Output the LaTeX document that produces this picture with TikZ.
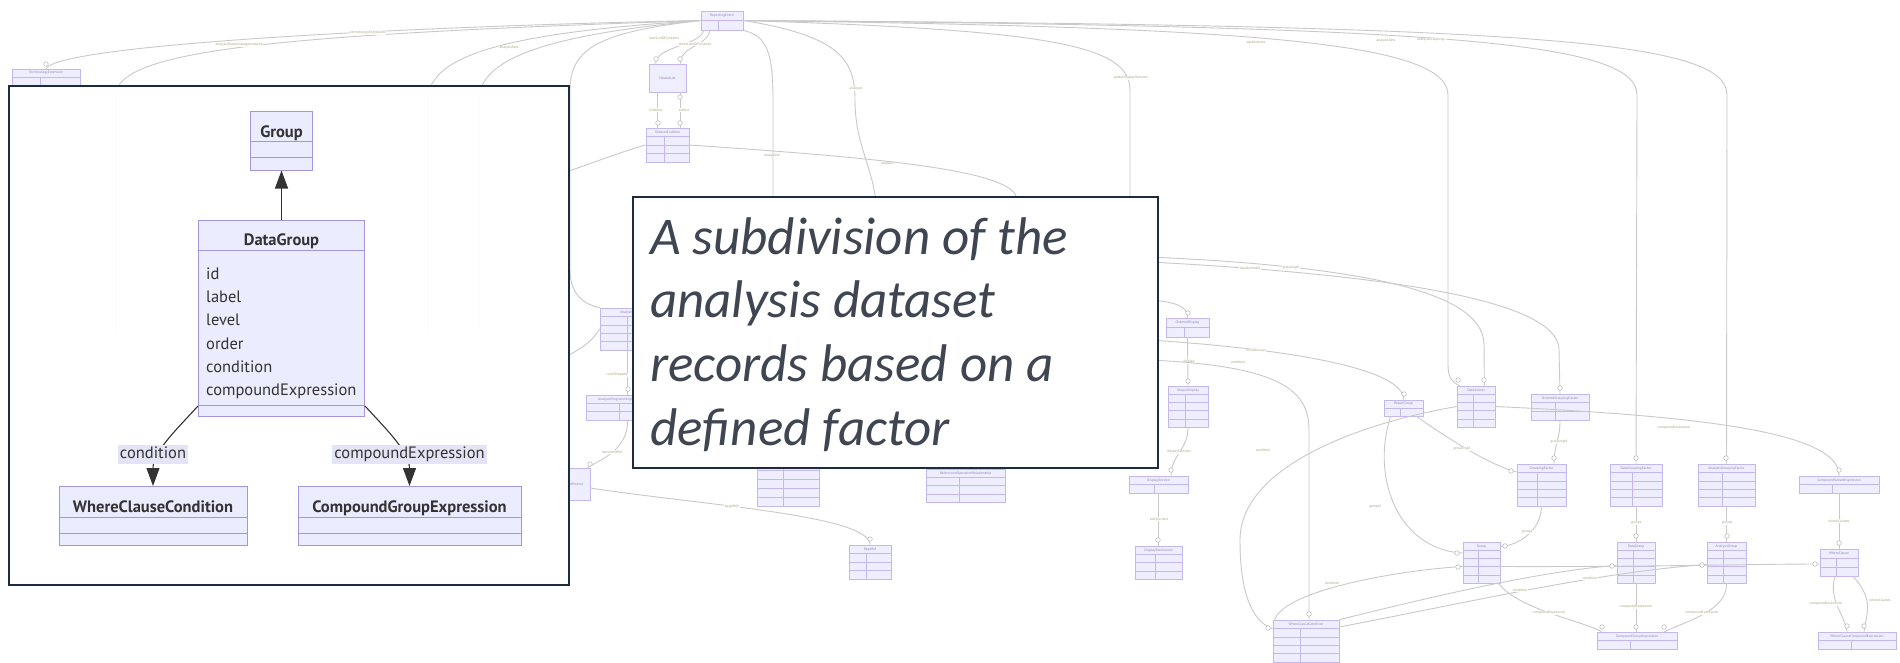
\documentclass[tikz,border=0pt]{standalone}
\usepackage{fontspec}
\setmainfont{PT Sans}
\newfontfamily\calfont{Carlito}
\usetikzlibrary{arrows.meta,calc}
\definecolor{erfill}{HTML}{EEEEFF}
\definecolor{erline}{HTML}{C4B8EE}
\definecolor{relc}{HTML}{C9C9C9}
\definecolor{circc}{HTML}{B5B5B5}
\definecolor{rlabc}{HTML}{A9A27A}
\definecolor{ttlc}{HTML}{8F86B8}
\definecolor{umlfill}{HTML}{ECECFF}
\definecolor{umlline}{HTML}{A594E0}
\definecolor{ink}{HTML}{333333}
\definecolor{navy}{HTML}{1C2B40}
\definecolor{slate}{HTML}{3F4652}
\definecolor{lblbg}{HTML}{E4E4F7}
\tikzset{
 erbox/.style={draw=erline, fill=erfill, line width=0.7pt, inner sep=0pt, rectangle},
 errow/.style={draw=erline, line width=0.5pt},
 ertitle/.style={font=\fontsize{3.6}{4}\selectfont, text=ttlc, inner sep=0pt},
 relline/.style={draw=relc, line width=0.9pt},
 rlab/.style={font=\fontsize{3.6}{4}\selectfont, text=rlabc, fill=white, inner sep=0.6pt},
 umlbox/.style={draw=umlline, fill=umlfill, line width=1pt, rectangle, inner sep=0pt},
 umlrule/.style={draw=umlline, line width=1pt},
 umlname/.style={font=\fontsize{16.5}{18}\selectfont\bfseries, text=ink, inner sep=0pt},
 umlattr/.style={font=\fontsize{16.5}{18}\selectfont, text=ink, inner sep=0pt, anchor=base west},
 umlarrow/.style={draw=ink, line width=1.1pt, -{Triangle[length=18pt,width=13pt]}},
 edgelab/.style={font=\fontsize{16.5}{18}\selectfont, text=ink, fill=lblbg, inner xsep=2pt, inner ysep=1.5pt, text height=12pt, text depth=4pt},
 navyframe/.style={draw=navy, line width=2pt, rectangle, inner sep=0pt},
 ctext/.style={font=\calfont\itshape\fontsize{53}{63}\selectfont, text=slate, inner sep=0pt, anchor=base west},
}
\newcommand{\erb}[7]{%
 \node[erbox, minimum width={(#4-#2)*1pt}, minimum height={(#5-#3)*1pt}] (#1) at ({(#2+#4)/2},{(#3+#5)/2}) {};
 \pgfmathsetmacro{\erh}{(#5-#3)/(#6+1)}%
 \node[ertitle] (#1t) at ({(#2+#4)/2},{#3+\erh/2}) {#7};
 \ifnum#6>0
 \foreach \k in {1,...,#6}{\draw[errow] (#2,{#3+\k*\erh}) -- (#4,{#3+\k*\erh});}
 \draw[errow] ({#2+0.42*(#4-#2)},{#3+\erh}) -- ({#2+0.42*(#4-#2)},#5);
 \fi
}
\newcommand{\erdot}[2]{\draw[draw=circc, fill=white, line width=0.5pt] (#1,#2) circle (2.3pt);}
\begin{document}
\begin{tikzpicture}[x=1pt,y=-1pt]
\useasboundingbox (0,0) rectangle (1900,662);
\fill[white] (0,0) rectangle (1900,662);

% ---------- background entity-relationship diagram ----------
\erb{re}{701}{11}{743}{30}{1}{ReportingEvent}
\erb{te}{12}{69}{80}{85}{1}{TerminologyExtension}
\erb{nl}{649}{64}{686}{92}{0}{NestedList}
\erb{oli}{646}{128}{689}{162}{3}{OrderedListItem}
\erb{am}{600}{308}{665}{350}{4}{AnalysisMethod}
\erb{apct}{586}{395}{665}{420}{2}{AnalysisProgrammingCodeTemplate}
\erb{dr}{562}{468}{590}{500}{0}{Reference}
\erb{pr}{849}{545}{891}{579}{3}{PageRef}
\erb{op}{757}{443}{819}{506}{6}{}
\erb{ror}{926}{469}{1005}{502}{3}{ReferencedOperationRelationship}
\erb{od}{1166}{318}{1209}{337}{1}{OrderedDisplay}
\erb{out}{1168}{386}{1208}{427}{4}{OutputDisplay}
\erb{ds}{1129}{476}{1188}{493}{1}{DisplaySection}
\erb{dss}{1135}{546}{1182}{579}{3}{DisplaySubSection}
\erb{rg}{1384}{400}{1423}{416}{1}{ResultGroup}
\erb{dsub}{1457}{386}{1495}{427}{4}{DataSubset}
\erb{ogf}{1531}{394}{1589}{420}{2}{OrderedGroupingFactor}
\erb{gf}{1517}{464}{1566}{506}{4}{GroupingFactor}
\erb{dgf}{1610}{464}{1662}{506}{4}{DataGroupingFactor}
\erb{agf}{1698}{464}{1755}{506}{4}{AnalysisGroupingFactor}
\erb{cse}{1799}{476}{1879}{493}{1}{CompoundSubsetExpression}
\erb{grp}{1463}{542}{1500}{583}{4}{Group}
\erb{dg}{1617}{542}{1655}{583}{4}{DataGroup}
\erb{ag}{1707}{542}{1746}{583}{4}{AnalysisGroup}
\erb{wc}{1820}{549}{1858}{576}{2}{WhereClause}
\erb{wcc}{1273}{620}{1339}{662}{4}{WhereClauseCondition}
\erb{cge}{1597}{632}{1677}{649}{1}{CompoundGroupExpression}
\erb{wcce}{1818}{632}{1896}{649}{1}{WhereClauseCompoundExpression}

% top-left fan
\draw[relline] (re.west) .. controls (420,26) and (60,44) .. (te.north);
\erdot{46}{64}
\coordinate (h1) at (116,330);
\draw[relline] (re.west) .. controls (300,34) and (116,48) .. (116,95) -- (h1);
\coordinate (h2) at (428,330);
\draw[relline] (re.west) .. controls (520,32) and (428,52) .. (428,100) -- (h2);
\coordinate (h3) at (479,330);
\draw[relline] (re.west) .. controls (560,34) and (479,55) .. (479,100) -- (h3);
\draw[relline] (re.west) .. controls (600,32) and (570,48) .. (570,90) -- (570,270) .. controls (570,295) and (585,305) .. (am.north west);
\node[rlab] (l1) at (368,33) {terminologyExtensions};
\node[rlab] (l2) at (239,45) {analysisOutputCategorizations};
\node[rlab] (l3) at (509,48) {analysisSets};

% nested list
\draw[relline] ($(re.south west)+(3,0)$) .. controls (700,46) and (656,46) .. ($(nl.north west)+(7,0)$);
\draw[relline] ($(re.south west)+(9,0)$) .. controls (708,46) and (680,46) .. ($(nl.north east)+(-6,0)$);
\erdot{656}{59} \erdot{680}{59}
\node[rlab] (l4) at (664,38) {mainListOfContents};
\node[rlab] (l5) at (695,44) {otherListsOfContents};
\draw[relline] ($(nl.south west)+(9,0)$) -- ($(oli.north west)+(12,0)$);
\draw[relline] ($(nl.south east)+(-6,0)$) -- ($(oli.north east)+(-9,0)$);
\erdot{658}{123} \erdot{680}{123} \erdot{680}{97}
\node[rlab] (l6) at (656,110) {listItems};
\node[rlab] (l7) at (684,110) {sublist};

\coordinate (h8) at (560,174);
\draw[relline] (oli.west) .. controls (620,152) and (585,166) .. (h8);
\coordinate (h7) at (1017,220);
\draw[relline] (oli.east) .. controls (880,158) and (1017,170) .. (1017,200) -- (h7);
\node[rlab] (l8) at (772,156) {analysisId};
\node[rlab] (l9) at (888,164) {outputId};

% lines down from reporting event
\coordinate (h4) at (773,220);
\draw[relline] (re.south east) .. controls (768,36) and (773,55) .. (773,100) -- (h4);
\coordinate (h5) at (877,220);
\draw[relline] (re.east) .. controls (840,36) and (855,60) .. (855,100) .. controls (855,150) and (877,170) .. (h5);
\node[rlab] (l10) at (856,89) {analyses};
\coordinate (h6) at (1130,220);
\draw[relline] (re.east) .. controls (1050,30) and (1130,45) .. (1130,90) -- (h6);
\node[rlab] (l11) at (1131,78) {globalDisplaySections};

% right fan
\draw[relline] (re.east) .. controls (1250,27) and (1448,42) .. (1448,95) -- (1448,365) .. controls (1448,378) and (1452,382) .. ($(dsub.north west)+(3,0)$);
\erdot{1458}{380}
\draw[relline] (re.east) .. controls (1450,26) and (1637,42) .. (1637,95) -- (dgf.north);
\erdot{1636}{458}
\draw[relline] (re.east) .. controls (1550,25) and (1727,42) .. (1727,95) -- (agf.north);
\erdot{1726}{458}
\node[rlab] (l12) at (1256,42) {dataSubsets};
\node[rlab] (l13) at (1386,41) {analysisSets};
\node[rlab] (l14) at (1431,40) {analysisGroupings};

% lines leaving the area behind the callout
\coordinate (h9) at (1150,257);
\draw[relline] (h9) .. controls (1400,268) and (1484,300) .. (1484,345) -- ($(dsub.north east)+(-11,0)$);
\erdot{1484}{380}
\coordinate (h10) at (1150,262);
\draw[relline] (h10) .. controls (1450,278) and (1559,310) .. (1559,350) -- (ogf.north);
\erdot{1560}{388}
\node[rlab] (l15) at (1250,268) {dataSubsetId};
\node[rlab] (l16) at (1291,268) {groupingId};
\coordinate (h11) at (1150,300);
\draw[relline] (h11) .. controls (1175,302) and (1188,306) .. (od.north);
\erdot{1188}{313}
\draw[relline] (od.south) -- (out.north);
\node[rlab] (l17) at (1189,362) {display};
\erdot{1188}{381}
\draw[relline] (out.south) .. controls (1188,450) and (1171,455) .. ($(ds.north)+(12.5,0)$);
\node[rlab] (l18) at (1179,452) {displaySections};
\erdot{1171}{470}
\draw[relline] (ds.south) -- (dss.north);
\node[rlab] (l19) at (1159,519) {subSections};
\erdot{1158}{540}
\coordinate (h12) at (1150,340);
\draw[relline] (h12) .. controls (1300,350) and (1404,370) .. (rg.north);
\node[rlab] (l20) at (1256,351) {resultGroups};
\erdot{1404}{394}
\coordinate (h13) at (1150,360);
\draw[relline] (h13) .. controls (1280,366) and (1309,390) .. (1309,430) -- ($(wcc.north)+(3,0)$);
\node[rlab] (l21) at (1238,362) {condition};
\erdot{1309}{614}

\draw[relline] (dsub.west) .. controls (1350,425) and (1240,470) .. (1240,540) .. controls (1240,600) and (1255,622) .. ($(wcc.west)+(0,-12)$);
\node[rlab] (l22) at (1263,450) {condition};
\erdot{1268}{628}
\draw[relline] ($(rg.south west)+(7,0)$) .. controls (1370,480) and (1400,550) .. ($(grp.west)+(0,-9.5)$);
\node[rlab] (l23) at (1375,507) {groupId};
\erdot{1457}{553}
\draw[relline] ($(rg.south east)+(-7,0)$) .. controls (1450,440) and (1490,465) .. ($(gf.west)+(0,-13)$);
\node[rlab] (l24) at (1462,449) {groupingId};
\erdot{1511}{471}
\draw[relline] (dsub.east) .. controls (1700,416) and (1840,432) .. (cse.north);
\node[rlab] (l25) at (1674,428) {compoundExpression};
\erdot{1839}{470}
\draw[relline] (ogf.south) .. controls (1560,440) and (1554,445) .. ($(gf.north)+(12.5,0)$);
\node[rlab] (l26) at (1559,442) {groupingId};
\erdot{1554}{458}
\draw[relline] (gf.south) .. controls (1541,530) and (1520,545) .. ($(grp.north east)+(0,5)$);
\node[rlab] (l27) at (1527,532) {groups};
\erdot{1505}{546}
\draw[relline] (dgf.south) -- (dg.north);
\node[rlab] (l28) at (1636,523) {groups};
\erdot{1636}{536}
\draw[relline] (agf.south) -- (ag.north);
\node[rlab] (l29) at (1727,523) {groups};
\erdot{1727}{536}
\draw[relline] (cse.south) -- (wc.north);
\node[rlab] (l30) at (1839,521) {whereClauses};
\erdot{1839}{543}
\draw[relline] ($(wc.south)+(-4,0)$) .. controls (1828,600) and (1845,615) .. ($(wcce.north)+(-10,0)$);
\draw[relline] ($(wc.south)+(14,0)$) .. controls (1875,600) and (1866,615) .. ($(wcce.north)+(7,0)$);
\node[rlab] (l31) at (1826,604) {compoundExpression};
\node[rlab] (l32) at (1880,600) {whereClauses};
\erdot{1847}{626} \erdot{1864}{626}
\draw[relline] (wcc.north east) .. controls (1450,592) and (1550,570) .. ($(dg.west)+(0,3)$);
\draw[relline] ($(wcc.east)+(0,-14)$) .. controls (1480,600) and (1600,572) .. ($(ag.west)+(0,2)$);
\draw[relline] ($(wcc.north west)+(2,0)$) .. controls (1285,590) and (1400,570) .. ($(grp.west)+(0,4)$);
\draw[relline] ($(grp.east)+(0,4)$) .. controls (1650,567) and (1750,564) .. ($(wc.west)+(0,1.5)$);
\node[rlab] (l33) at (1332,583) {condition};
\node[rlab] (l34) at (1520,590) {condition};
\node[rlab] (l35) at (1590,578) {condition};
\erdot{1612}{566} \erdot{1702}{565} \erdot{1458}{567} \erdot{1815}{564}
\draw[relline] ($(grp.south east)+(-2,0)$) .. controls (1520,610) and (1580,620) .. ($(cge.north west)+(5,0)$);
\node[rlab] (l36) at (1549,613) {compoundExpression};
\draw[relline] (dg.south) -- ($(cge.north)+(-1,0)$);
\node[rlab] (l37) at (1636,607) {compoundExpression};
\draw[relline] (ag.south) .. controls (1727,610) and (1690,620) .. ($(cge.north east)+(-13,0)$);
\node[rlab] (l38) at (1702,613) {compoundExpression};
\erdot{1602}{627} \erdot{1636}{627} \erdot{1664}{627}

% middle-left
\draw[relline] ($(am.south west)+(28,0)$) -- ($(apct.north west)+(42,0)$);
\node[rlab] (l39) at (617,375) {codeTemplate};
\erdot{628}{389}
\draw[relline] ($(apct.south west)+(42,0)$) .. controls (628,450) and (600,460) .. ($(dr.north east)+(-3,0)$);
\node[rlab] (l40) at (612,452) {documentRef};
\erdot{590}{464}
\draw[relline] ($(dr.east)+(0,4)$) .. controls (700,505) and (870,515) .. (pr.north);
\node[rlab] (l41) at (732,507) {pageRefs};
\erdot{870}{539}
\coordinate (h14) at (555,362);
\draw[relline] (h14) .. controls (575,352) and (590,345) .. (am.west);

% ---------- inset: UML class diagram ----------
\node[navyframe, fill=white, fill opacity=0.94, minimum width=560pt, minimum height=499pt] (inset) at (289,335.5) {};

\node[umlbox, minimum width=62pt, minimum height=59pt] (uGroup) at (281.5,140.5) {};
\draw[umlrule] ($(uGroup.north west)+(0,31)$) -- ($(uGroup.north east)+(0,31)$);
\draw[umlrule] ($(uGroup.north west)+(0,47)$) -- ($(uGroup.north east)+(0,47)$);
\node[umlname, anchor=base] (uGroupT) at (281.5,137) {Group};

\node[umlbox, minimum width=166pt, minimum height=196pt] (uDG) at (281.5,318.5) {};
\draw[umlrule] ($(uDG.north west)+(0,30.5)$) -- ($(uDG.north east)+(0,30.5)$);
\draw[umlrule] ($(uDG.north west)+(0,185.5)$) -- ($(uDG.north east)+(0,185.5)$);
\node[umlname, anchor=base] (uDGT) at (281.5,245.5) {DataGroup};
\node[umlattr] (a1) at (206,279.7) {id};
\node[umlattr] (a2) at (206,302.8) {label};
\node[umlattr] (a3) at (206,325.9) {level};
\node[umlattr] (a4) at (206,349.0) {order};
\node[umlattr] (a5) at (206,372.1) {condition};
\node[umlattr] (a6) at (206,395.2) {compoundExpression};

\node[umlbox, minimum width=188pt, minimum height=59pt] (uWCC) at (153,516) {};
\draw[umlrule] ($(uWCC.north west)+(0,31.5)$) -- ($(uWCC.north east)+(0,31.5)$);
\draw[umlrule] ($(uWCC.north west)+(0,47.5)$) -- ($(uWCC.north east)+(0,47.5)$);
\node[umlname, anchor=base] (uWCCT) at (153,512.4) {WhereClauseCondition};

\node[umlbox, minimum width=223pt, minimum height=59pt] (uCGE) at (409.5,516) {};
\draw[umlrule] ($(uCGE.north west)+(0,31.5)$) -- ($(uCGE.north east)+(0,31.5)$);
\draw[umlrule] ($(uCGE.north west)+(0,47.5)$) -- ($(uCGE.north east)+(0,47.5)$);
\node[umlname, anchor=base] (uCGET) at (409.5,512.4) {CompoundGroupExpression};

\draw[umlarrow] (uDG.north) -- (uGroup.south);
\draw[umlarrow] ($(uDG.south west)+(0,-11)$) .. controls (176,430) and (153,452) .. (uWCC.north);
\draw[umlarrow] ($(uDG.south east)+(0,-11)$) .. controls (387,430) and (409.5,452) .. (uCGE.north);
\node[edgelab] (uLc) at (153,454) {condition};
\node[edgelab] (uLce) at (409.5,454) {compoundExpression};

% ---------- callout ----------
\node[navyframe, fill=white, minimum width=525pt, minimum height=271pt] (callout) at (895.5,332.5) {};
\node[ctext] (ct1) at (650,254) {A subdivision of the};
\node[ctext] (ct2) at (650,317.5) {analysis dataset};
\node[ctext] (ct3) at (650,381) {records based on a};
\node[ctext] (ct4) at (650,445) {defined factor};
\end{tikzpicture}
\end{document}
